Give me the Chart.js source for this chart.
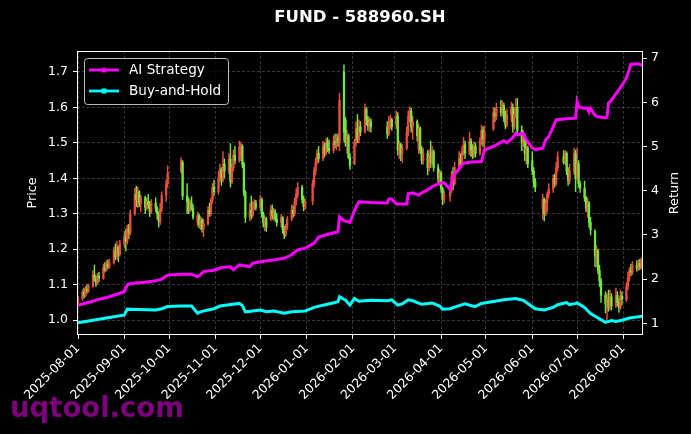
<!DOCTYPE html>
<html><head><meta charset="utf-8">
<script src="https://cdn.jsdelivr.net/npm/chart.js@4.4.1/dist/chart.umd.min.js"></script>
<style>html,body{margin:0;padding:0;background:#000;}canvas{display:block;}</style>
</head><body>
<canvas id="c" width="691" height="434"></canvas>
<script>
const chartTitle = 'FUND - 588960.SH';
const seriesNames = ['AI Strategy', 'Buy-and-Hold'];

const candleDates = [
'2025-08-01','2025-08-04','2025-08-05','2025-08-06','2025-08-07','2025-08-08','2025-08-11','2025-08-12','2025-08-13','2025-08-14','2025-08-15','2025-08-18','2025-08-19','2025-08-20','2025-08-21','2025-08-22','2025-08-25','2025-08-26','2025-08-27','2025-08-28','2025-08-29',
'2025-09-01','2025-09-02','2025-09-03','2025-09-04','2025-09-05','2025-09-08','2025-09-09','2025-09-10','2025-09-11','2025-09-12','2025-09-15','2025-09-16','2025-09-17','2025-09-18','2025-09-19','2025-09-22','2025-09-23','2025-09-24','2025-09-25','2025-09-26','2025-09-29','2025-09-30',
'2025-10-09','2025-10-10','2025-10-13','2025-10-14','2025-10-15','2025-10-16','2025-10-17','2025-10-20','2025-10-21','2025-10-22','2025-10-23','2025-10-24','2025-10-27','2025-10-28','2025-10-29','2025-10-30','2025-10-31',
'2025-11-03','2025-11-04','2025-11-05','2025-11-06','2025-11-07','2025-11-10','2025-11-11','2025-11-12','2025-11-13','2025-11-14','2025-11-17','2025-11-18','2025-11-19','2025-11-20','2025-11-21','2025-11-24','2025-11-25','2025-11-26','2025-11-27','2025-11-28',
'2025-12-01','2025-12-02','2025-12-03','2025-12-04','2025-12-05','2025-12-08','2025-12-09','2025-12-10','2025-12-11','2025-12-12','2025-12-15','2025-12-16','2025-12-17','2025-12-18','2025-12-19','2025-12-22','2025-12-23','2025-12-24','2025-12-25','2025-12-26','2025-12-29','2025-12-30','2025-12-31',
'2026-01-05','2026-01-06','2026-01-07','2026-01-08','2026-01-09','2026-01-12','2026-01-13','2026-01-14','2026-01-15','2026-01-16','2026-01-19','2026-01-20','2026-01-21','2026-01-22','2026-01-23','2026-01-26','2026-01-27','2026-01-28','2026-01-29','2026-01-30',
'2026-02-02','2026-02-03','2026-02-04','2026-02-05','2026-02-06','2026-02-09','2026-02-10','2026-02-11','2026-02-12','2026-02-13','2026-02-24','2026-02-25','2026-02-26','2026-02-27',
'2026-03-02','2026-03-03','2026-03-04','2026-03-05','2026-03-06','2026-03-09','2026-03-10','2026-03-11','2026-03-12','2026-03-13','2026-03-16','2026-03-17','2026-03-18','2026-03-19','2026-03-20','2026-03-23','2026-03-24','2026-03-25','2026-03-26','2026-03-27','2026-03-30','2026-03-31',
'2026-04-01','2026-04-02','2026-04-03','2026-04-07','2026-04-08','2026-04-09','2026-04-10','2026-04-13','2026-04-14','2026-04-15','2026-04-16','2026-04-17','2026-04-20','2026-04-21','2026-04-22','2026-04-23','2026-04-24','2026-04-27','2026-04-28','2026-04-29','2026-04-30',
'2026-05-06','2026-05-07','2026-05-08','2026-05-11','2026-05-12','2026-05-13','2026-05-14','2026-05-15','2026-05-18','2026-05-19','2026-05-20','2026-05-21','2026-05-22','2026-05-25','2026-05-26','2026-05-27','2026-05-28','2026-05-29',
'2026-06-01','2026-06-02','2026-06-03','2026-06-08','2026-06-09','2026-06-10','2026-06-11','2026-06-12','2026-06-15','2026-06-16','2026-06-17','2026-06-18','2026-06-22','2026-06-23','2026-06-24','2026-06-25','2026-06-26','2026-06-29','2026-06-30',
'2026-07-01','2026-07-02','2026-07-03','2026-07-06','2026-07-07','2026-07-08','2026-07-09','2026-07-10','2026-07-13','2026-07-14','2026-07-15','2026-07-16','2026-07-17','2026-07-20','2026-07-21','2026-07-22','2026-07-23','2026-07-24','2026-07-27','2026-07-28','2026-07-29','2026-07-30','2026-07-31',
'2026-08-03','2026-08-04','2026-08-05','2026-08-06','2026-08-07','2026-08-10','2026-08-11','2026-08-12','2026-08-13','2026-08-14'
];

const openPrice = [
1.045,1.062,1.078,1.070,1.088,1.082,1.095,1.128,1.118,1.105,1.125,1.118,1.148,1.140,1.158,1.150,1.162,1.195,1.178,1.205,1.185,
1.215,1.235,1.222,1.258,1.245,1.300,1.355,1.340,1.362,1.330,1.345,1.318,1.335,1.325,1.305,1.330,1.315,1.300,1.278,1.312,1.352,1.385,
1.420,1.445,1.350,1.335,1.310,1.330,1.315,1.275,1.295,1.270,1.282,1.258,1.272,1.310,1.300,1.338,1.375,
1.362,1.400,1.425,1.395,1.440,1.420,1.455,1.390,1.430,1.465,1.450,1.462,1.490,1.440,1.360,1.290,1.310,1.295,1.320,1.330,
1.318,1.340,1.300,1.275,1.285,1.285,1.310,1.295,1.305,1.285,1.275,1.290,1.255,1.240,1.262,1.285,1.310,1.300,1.335,1.355,1.375,1.340,1.320,
1.335,1.385,1.420,1.445,1.470,1.455,1.490,1.470,1.500,1.485,1.478,1.505,1.495,1.515,1.500,1.700,1.565,1.500,1.520,1.460,
1.440,1.500,1.540,1.510,1.545,1.530,1.595,1.565,1.548,1.560,1.545,1.525,1.555,1.565,
1.550,1.575,1.480,1.495,1.470,1.485,1.530,1.575,1.590,1.545,1.560,1.480,1.540,1.480,1.450,1.470,1.430,1.465,1.445,1.475,1.430,1.400,
1.415,1.370,1.340,1.350,1.365,1.405,1.385,1.430,1.455,1.440,1.475,1.495,1.470,1.505,1.480,1.465,1.490,1.470,1.505,1.535,1.510,
1.540,1.585,1.575,1.600,1.585,1.605,1.570,1.550,1.580,1.600,1.545,1.580,1.600,1.535,1.500,1.520,1.470,1.485,
1.450,1.420,1.390,1.315,1.340,1.300,1.330,1.355,1.370,1.400,1.385,1.430,1.460,1.445,1.470,1.420,1.395,1.420,1.470,
1.400,1.440,1.385,1.372,1.345,1.315,1.330,1.275,1.250,1.180,1.195,1.140,1.110,1.070,1.045,1.060,1.035,1.065,1.040,1.070,1.050,1.035,1.068,
1.058,1.095,1.120,1.140,1.135,1.155,1.145,1.160,1.150,1.165
];

const highPrice = [
1.068,1.085,1.090,1.095,1.100,1.102,1.140,1.155,1.125,1.132,1.135,1.158,1.162,1.168,1.170,1.172,1.205,1.215,1.222,1.210,1.225,
1.250,1.255,1.268,1.270,1.310,1.372,1.378,1.375,1.365,1.352,1.350,1.345,1.355,1.335,1.340,1.345,1.320,1.305,1.330,1.362,1.395,1.435,
1.458,1.450,1.385,1.345,1.340,1.348,1.325,1.305,1.300,1.292,1.288,1.285,1.320,1.330,1.345,1.385,1.395,
1.420,1.440,1.430,1.475,1.455,1.470,1.498,1.440,1.480,1.490,1.505,1.502,1.495,1.445,1.365,1.330,1.350,1.335,1.340,1.338,
1.352,1.345,1.305,1.295,1.290,1.322,1.325,1.315,1.312,1.300,1.298,1.292,1.265,1.270,1.292,1.325,1.322,1.345,1.370,1.388,1.380,1.350,1.342,
1.395,1.430,1.458,1.480,1.490,1.505,1.500,1.512,1.515,1.508,1.520,1.525,1.525,1.525,1.640,1.720,1.572,1.535,1.525,1.470,
1.510,1.560,1.580,1.565,1.560,1.610,1.600,1.575,1.572,1.568,1.560,1.575,1.578,1.570,
1.590,1.585,1.505,1.500,1.495,1.545,1.590,1.602,1.598,1.575,1.565,1.552,1.545,1.490,1.485,1.478,1.480,1.505,1.490,1.480,1.440,1.425,
1.420,1.375,1.365,1.375,1.420,1.430,1.445,1.475,1.470,1.490,1.515,1.505,1.530,1.512,1.495,1.502,1.500,1.515,1.550,1.545,1.548,
1.600,1.598,1.612,1.620,1.618,1.612,1.590,1.595,1.615,1.610,1.598,1.625,1.625,1.548,1.535,1.525,1.505,1.490,
1.475,1.430,1.400,1.355,1.345,1.340,1.362,1.385,1.410,1.412,1.445,1.475,1.478,1.478,1.475,1.430,1.440,1.485,1.480,
1.485,1.450,1.392,1.392,1.350,1.345,1.335,1.290,1.255,1.210,1.200,1.155,1.118,1.080,1.075,1.085,1.085,1.075,1.090,1.080,1.060,1.085,1.080,
1.105,1.135,1.148,1.158,1.165,1.168,1.170,1.172,1.175,1.172
];

const lowPrice = [
1.040,1.055,1.062,1.066,1.075,1.078,1.092,1.110,1.095,1.100,1.108,1.115,1.135,1.138,1.145,1.146,1.158,1.170,1.172,1.165,1.180,
1.205,1.195,1.215,1.230,1.240,1.295,1.320,1.318,1.320,1.305,1.300,1.310,1.315,1.292,1.300,1.305,1.285,1.262,1.270,1.305,1.335,1.375,
1.415,1.340,1.300,1.300,1.305,1.310,1.285,1.265,1.260,1.255,1.248,1.235,1.268,1.292,1.295,1.330,1.350,
1.355,1.390,1.380,1.390,1.400,1.412,1.375,1.385,1.420,1.440,1.445,1.450,1.430,1.350,1.275,1.280,1.285,1.290,1.312,1.310,
1.310,1.290,1.262,1.252,1.250,1.280,1.285,1.282,1.278,1.265,1.262,1.245,1.230,1.235,1.255,1.280,1.290,1.295,1.325,1.345,1.330,1.308,1.312,
1.325,1.375,1.410,1.440,1.445,1.450,1.460,1.465,1.475,1.470,1.472,1.485,1.480,1.490,1.478,1.505,1.490,1.470,1.455,1.425,
1.438,1.490,1.500,1.500,1.520,1.528,1.550,1.535,1.532,1.530,1.512,1.520,1.540,1.535,
1.540,1.465,1.455,1.450,1.445,1.480,1.520,1.560,1.530,1.510,1.505,1.470,1.470,1.440,1.440,1.410,1.420,1.430,1.438,1.420,1.385,1.380,
1.360,1.325,1.330,1.335,1.360,1.368,1.380,1.420,1.430,1.435,1.465,1.455,1.465,1.462,1.455,1.458,1.460,1.465,1.495,1.490,1.480,
1.535,1.560,1.565,1.575,1.578,1.560,1.540,1.545,1.560,1.530,1.538,1.570,1.525,1.478,1.490,1.450,1.440,1.430,
1.410,1.375,1.362,1.285,1.280,1.295,1.305,1.345,1.360,1.375,1.380,1.420,1.440,1.440,1.410,1.380,1.385,1.410,1.362,
1.395,1.375,1.360,1.335,1.305,1.290,1.262,1.240,1.150,1.150,1.130,1.095,1.050,1.020,1.000,1.025,1.030,1.028,1.035,1.040,1.022,1.030,1.042,
1.052,1.085,1.110,1.125,1.128,1.138,1.140,1.142,1.145,1.150
];

const closePrice = [
1.062,1.078,1.070,1.088,1.082,1.095,1.128,1.118,1.105,1.125,1.118,1.148,1.140,1.158,1.150,1.162,1.195,1.178,1.205,1.185,1.215,
1.235,1.222,1.258,1.245,1.300,1.355,1.340,1.362,1.330,1.345,1.318,1.335,1.325,1.305,1.330,1.315,1.300,1.278,1.312,1.352,1.385,1.415,
1.450,1.350,1.335,1.310,1.330,1.315,1.290,1.295,1.270,1.282,1.258,1.272,1.310,1.300,1.338,1.375,1.362,
1.400,1.425,1.395,1.440,1.420,1.455,1.390,1.430,1.465,1.450,1.488,1.495,1.440,1.360,1.290,1.310,1.295,1.320,1.330,1.318,
1.340,1.300,1.275,1.285,1.262,1.310,1.295,1.305,1.285,1.275,1.290,1.255,1.240,1.262,1.285,1.310,1.300,1.335,1.355,1.375,1.340,1.320,1.335,
1.385,1.420,1.445,1.470,1.455,1.490,1.470,1.500,1.485,1.478,1.505,1.495,1.515,1.500,1.620,1.530,1.500,1.520,1.460,1.435,
1.500,1.540,1.510,1.545,1.530,1.595,1.565,1.548,1.560,1.545,1.525,1.555,1.565,1.545,
1.575,1.480,1.495,1.470,1.485,1.530,1.575,1.590,1.545,1.560,1.520,1.540,1.480,1.450,1.470,1.430,1.465,1.445,1.475,1.430,1.400,1.415,
1.370,1.340,1.355,1.365,1.405,1.385,1.430,1.455,1.440,1.475,1.495,1.470,1.505,1.480,1.465,1.490,1.470,1.505,1.535,1.510,1.530,
1.585,1.575,1.600,1.585,1.605,1.570,1.550,1.580,1.600,1.545,1.580,1.600,1.535,1.500,1.520,1.470,1.485,1.440,
1.420,1.390,1.375,1.340,1.300,1.330,1.355,1.370,1.400,1.385,1.430,1.460,1.445,1.470,1.420,1.395,1.420,1.470,1.400,
1.440,1.385,1.372,1.345,1.315,1.330,1.275,1.255,1.180,1.195,1.140,1.110,1.070,1.045,1.060,1.035,1.065,1.040,1.070,1.050,1.035,1.068,1.058,
1.095,1.120,1.140,1.135,1.155,1.145,1.160,1.150,1.165,1.158
];

const aiDates = ['2025-08-01','2025-08-08','2025-08-15','2025-08-22','2025-08-29','2025-09-01','2025-09-03','2025-09-05','2025-09-15','2025-09-22','2025-09-26','2025-09-30','2025-10-09','2025-10-16','2025-10-20','2025-10-22','2025-10-24','2025-10-31','2025-11-05','2025-11-11','2025-11-13','2025-11-17','2025-11-20','2025-11-24','2025-11-26','2025-12-01','2025-12-10','2025-12-17','2025-12-22','2025-12-26','2025-12-31','2026-01-06','2026-01-09','2026-01-16','2026-01-22','2026-01-23','2026-01-26','2026-01-30','2026-02-02','2026-02-05','2026-02-13','2026-02-24','2026-02-25','2026-02-27','2026-03-02','2026-03-09','2026-03-10','2026-03-13','2026-03-17','2026-03-19','2026-03-23','2026-03-26','2026-03-31','2026-04-03','2026-04-07','2026-04-09','2026-04-13','2026-04-16','2026-04-21','2026-04-28','2026-04-30','2026-05-07','2026-05-13','2026-05-15','2026-05-19','2026-05-21','2026-05-22','2026-05-26','2026-05-28','2026-06-01','2026-06-03','2026-06-08','2026-06-10','2026-06-12','2026-06-17','2026-06-22','2026-06-30','2026-07-01','2026-07-02','2026-07-06','2026-07-08','2026-07-09','2026-07-10','2026-07-13','2026-07-15','2026-07-20','2026-07-21','2026-07-22','2026-07-24','2026-07-28','2026-07-31','2026-08-03','2026-08-05','2026-08-06','2026-08-11','2026-08-14'];
const aiReturn = [1.41,1.47,1.54,1.60,1.68,1.72,1.87,1.90,1.93,1.96,2.00,2.09,2.11,2.11,2.05,2.10,2.17,2.20,2.26,2.28,2.21,2.32,2.30,2.28,2.36,2.39,2.43,2.47,2.55,2.66,2.70,2.81,2.95,3.02,3.07,3.41,3.32,3.28,3.55,3.75,3.73,3.72,3.81,3.81,3.70,3.70,3.93,3.95,3.90,3.95,4.02,4.09,4.17,4.18,4.03,4.32,4.50,4.62,4.65,4.66,4.92,5.02,5.13,5.08,5.20,5.30,5.26,5.30,5.15,4.97,4.93,4.96,5.15,5.22,5.60,5.62,5.64,6.01,5.90,5.86,5.87,5.78,5.86,5.70,5.67,5.65,5.66,5.98,6.05,6.24,6.38,6.55,6.75,6.86,6.87,6.83];

const bhDates = ['2025-08-01','2025-08-08','2025-08-15','2025-08-22','2025-08-29','2025-09-01','2025-09-03','2025-09-10','2025-09-22','2025-09-26','2025-09-30','2025-10-09','2025-10-16','2025-10-20','2025-10-23','2025-10-27','2025-10-31','2025-11-04','2025-11-10','2025-11-17','2025-11-19','2025-11-21','2025-11-26','2025-12-01','2025-12-05','2025-12-10','2025-12-17','2025-12-22','2025-12-31','2026-01-06','2026-01-12','2026-01-20','2026-01-22','2026-01-23','2026-01-27','2026-01-30','2026-02-02','2026-02-05','2026-02-13','2026-02-24','2026-02-27','2026-03-03','2026-03-06','2026-03-10','2026-03-13','2026-03-19','2026-03-26','2026-03-31','2026-04-02','2026-04-07','2026-04-13','2026-04-17','2026-04-22','2026-04-24','2026-04-28','2026-05-07','2026-05-13','2026-05-21','2026-05-26','2026-05-29','2026-06-03','2026-06-09','2026-06-15','2026-06-18','2026-06-24','2026-06-26','2026-06-30','2026-07-01','2026-07-06','2026-07-10','2026-07-15','2026-07-20','2026-07-24','2026-07-27','2026-07-31','2026-08-05','2026-08-14'];
const bhReturn = [1.01,1.05,1.09,1.13,1.17,1.19,1.32,1.31,1.30,1.33,1.38,1.39,1.39,1.23,1.27,1.30,1.33,1.39,1.42,1.45,1.40,1.26,1.28,1.30,1.26,1.28,1.23,1.26,1.28,1.36,1.41,1.47,1.49,1.60,1.52,1.41,1.56,1.50,1.52,1.51,1.53,1.41,1.44,1.53,1.51,1.43,1.46,1.39,1.32,1.33,1.40,1.44,1.39,1.38,1.45,1.50,1.53,1.56,1.52,1.45,1.33,1.30,1.36,1.42,1.47,1.42,1.45,1.46,1.36,1.22,1.12,1.02,1.06,1.04,1.07,1.12,1.16];

const monthTicks = ['2025-08-01','2025-09-01','2025-10-01','2025-11-01','2025-12-01','2026-01-01','2026-02-01','2026-03-01','2026-04-01','2026-05-01','2026-06-01','2026-07-01','2026-08-01'];
const priceTicks = [1.0,1.1,1.2,1.3,1.4,1.5,1.6,1.7];
const returnTicks = [1,2,3,4,5,6,7];

// ---- helpers ----
const BASE = Date.UTC(2025, 7, 1);
function dayOf(s){ const p = s.split('-').map(Number); return (Date.UTC(p[0], p[1]-1, p[2]) - BASE) / 86400000; }
const tickLabelByDay = {};
monthTicks.forEach(d => { tickLabelByDay[dayOf(d)] = d; });

const UP = 'rgb(236,76,62)', DOWN = 'rgb(112,232,62)';
const candleColors = candleDates.map((d,i) => closePrice[i] >= openPrice[i] ? UP : DOWN);
const FONT = 'DejaVu Sans';
const gridColor = 'rgba(150,150,150,0.45)';

const bgPlugin = {
  id: 'bg',
  beforeDraw(chart){ const c = chart.ctx; c.save(); c.fillStyle = '#000'; c.fillRect(0,0,chart.width,chart.height); c.restore(); }
};
const decoPlugin = {
  id: 'deco',
  afterDraw(chart){
    const c = chart.ctx, a = chart.chartArea;
    c.save();
    // frame
    c.strokeStyle = '#fff'; c.lineWidth = 1;
    c.strokeRect(a.left + 0.5, a.top + 0.5, a.right - a.left - 1, a.bottom - a.top - 1);
    // title
    c.fillStyle = '#fff'; c.font = 'bold 16.5px "' + FONT + '"';
    c.textAlign = 'center'; c.textBaseline = 'middle';
    c.fillText(chartTitle, (a.left + a.right) / 2, 18);
    // axis titles
    c.font = '12.8px "' + FONT + '"';
    c.save(); c.translate(33, (a.top + a.bottom) / 2); c.rotate(-Math.PI/2); c.fillText('Price', 0, 0); c.restore();
    c.save(); c.translate(675, (a.top + a.bottom) / 2); c.rotate(-Math.PI/2); c.fillText('Return', 0, 0); c.restore();
    // legend
    const lx = 84.5, ly = 58.5, lw = 144, lh = 46, r = 3;
    c.beginPath();
    c.moveTo(lx + r, ly); c.lineTo(lx + lw - r, ly); c.quadraticCurveTo(lx + lw, ly, lx + lw, ly + r);
    c.lineTo(lx + lw, ly + lh - r); c.quadraticCurveTo(lx + lw, ly + lh, lx + lw - r, ly + lh);
    c.lineTo(lx + r, ly + lh); c.quadraticCurveTo(lx, ly + lh, lx, ly + lh - r);
    c.lineTo(lx, ly + r); c.quadraticCurveTo(lx, ly, lx + r, ly); c.closePath();
    c.fillStyle = 'rgba(0,0,0,0.8)'; c.fill();
    c.strokeStyle = 'rgba(210,210,210,0.9)'; c.lineWidth = 1; c.stroke();
    const rows = [{y: 70, col: '#ff00ff', sq: false}, {y: 91, col: '#00ffff', sq: true}];
    rows.forEach((row, k) => {
      c.strokeStyle = row.col; c.lineWidth = 2.8;
      c.beginPath(); c.moveTo(89, row.y); c.lineTo(119, row.y); c.stroke();
      c.fillStyle = row.col;
      if (row.sq) { c.fillRect(101.5, row.y - 2.5, 5, 5); }
      else { c.beginPath(); c.arc(104, row.y, 2.6, 0, Math.PI*2); c.fill(); }
      c.fillStyle = '#fff'; c.font = '13.6px "' + FONT + '"'; c.textAlign = 'left'; c.textBaseline = 'middle';
      c.fillText(seriesNames[k], 129, row.y + 0.5);
    });
    // watermark
    c.font = 'bold 27.5px "' + FONT + '"'; c.fillStyle = 'rgba(140,0,140,0.9)';
    c.textAlign = 'left'; c.textBaseline = 'alphabetic';
    c.fillText('uqtool.com', 10, 417);
    c.restore();
  }
};

const wickData = candleDates.map((d,i) => ({x: dayOf(d), y: [lowPrice[i], highPrice[i]]}));
const bodyData = candleDates.map((d,i) => ({x: dayOf(d), y: [openPrice[i], closePrice[i]]}));
const aiData = aiDates.map((d,i) => ({x: dayOf(d), y: aiReturn[i]}));
const bhData = bhDates.map((d,i) => ({x: dayOf(d), y: bhReturn[i]}));

const tickFont = {family: FONT, size: 12.5};

new Chart(document.getElementById('c'), {
  type: 'bar',
  data: {
    datasets: [
      {type: 'line', label: seriesNames[0], data: aiData, yAxisID: 'y1', borderColor: '#ff00ff', borderWidth: 3, pointRadius: 0, tension: 0, order: 0},
      {type: 'line', label: seriesNames[1], data: bhData, yAxisID: 'y1', borderColor: '#00ffff', borderWidth: 3, pointRadius: 0, tension: 0, order: 0},
      {type: 'bar', label: 'body', data: bodyData, yAxisID: 'y', backgroundColor: candleColors, barThickness: 1.6, grouped: false, borderWidth: 0, order: 1},
      {type: 'bar', label: 'wick', data: wickData, yAxisID: 'y', backgroundColor: candleColors, barThickness: 0.8, grouped: false, borderWidth: 0, order: 2}
    ]
  },
  options: {
    responsive: false, animation: false, devicePixelRatio: 1,
    layout: {padding: {top: 51, left: 0, right: 0, bottom: 0}},
    plugins: {legend: {display: false}, tooltip: {enabled: false}, title: {display: false}},
    scales: {
      x: {
        type: 'linear', min: -0.67, max: 378.1, offset: false,
        afterBuildTicks: s => { s.ticks = monthTicks.map(d => ({value: dayOf(d)})); },
        afterFit: s => { s.height = 99; },
        ticks: {color: '#fff', font: tickFont, autoSkip: false, maxRotation: 45, minRotation: 45, padding: 2,
                callback: v => tickLabelByDay[v] || ''},
        grid: {color: gridColor, lineWidth: 0.8, offset: false, drawTicks: true, tickLength: 4, tickColor: '#fff', tickWidth: 1},
        border: {display: false, dash: [3, 2]}
      },
      y: {
        type: 'linear', position: 'left', min: 0.958, max: 1.759, beginAtZero: false,
        afterBuildTicks: s => { s.ticks = priceTicks.map(v => ({value: v})); },
        afterFit: s => { s.width = 77; },
        ticks: {color: '#fff', font: tickFont, padding: 5, callback: v => Number(v).toFixed(1)},
        grid: {color: gridColor, lineWidth: 0.8, drawTicks: true, tickLength: 4, tickColor: '#fff', tickWidth: 1},
        border: {display: false, dash: [3, 2]}
      },
      y1: {
        type: 'linear', position: 'right', min: 0.735, max: 7.16, beginAtZero: false,
        afterBuildTicks: s => { s.ticks = returnTicks.map(v => ({value: v})); },
        afterFit: s => { s.width = 48; },
        ticks: {color: '#fff', font: tickFont, padding: 4, callback: v => String(v)},
        grid: {drawOnChartArea: false, drawTicks: true, tickLength: 4, tickColor: '#fff', tickWidth: 1},
        border: {display: false}
      }
    }
  },
  plugins: [bgPlugin, decoPlugin]
});
</script>
</body></html>
